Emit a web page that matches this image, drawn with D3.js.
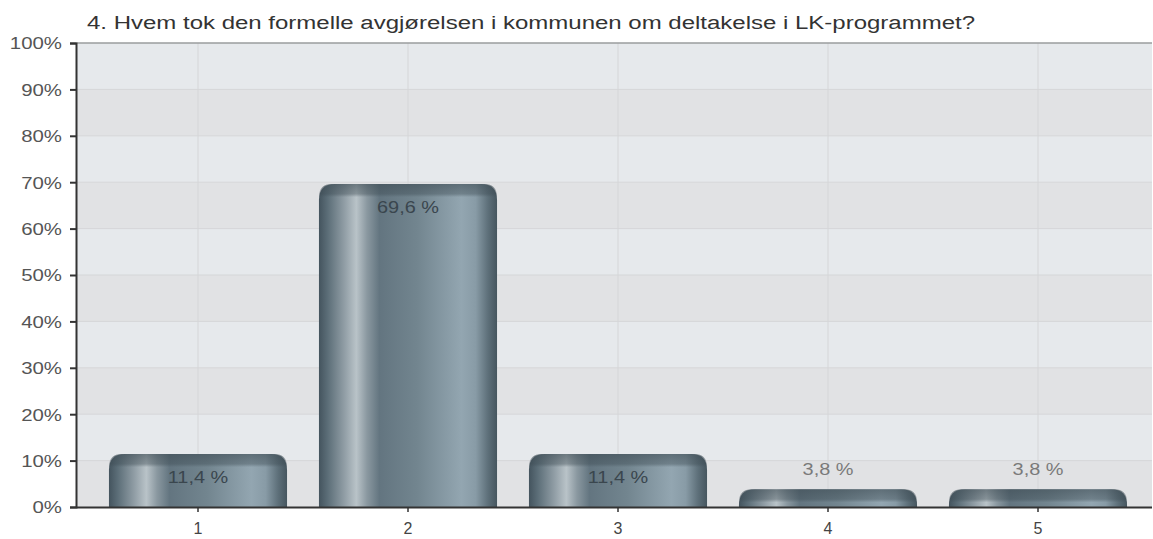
<!DOCTYPE html>
<html>
<head>
<meta charset="utf-8">
<script src="https://cdn.jsdelivr.net/npm/d3@7"></script>
<style>
  body { margin: 0; background: #fff; }
  svg { display: block; font-family: "Liberation Sans", Arial, sans-serif; }
</style>
</head>
<body>
<div id="chart"></div>
<script>
// Dữ liệu
const title = "4. Hvem tok den formelle avgjørelsen i kommunen om deltakelse i LK-programmet?";
const categories = ["1", "2", "3", "4", "5"];
const values = [11.4, 69.6, 11.4, 3.8, 3.8];
const yTicks = [0, 10, 20, 30, 40, 50, 60, 70, 80, 90, 100];

const W = 1153, H = 539;
const plotLeft = 76, plotRight = 1152, plotTop = 43, plotBottom = 507;

const svg = d3.select("#chart").append("svg")
    .attr("width", W)
    .attr("height", H);

const defs = svg.append("defs");

// gradient ngang cho cột
const hg = defs.append("linearGradient").attr("id", "barH")
    .attr("x1", "0%").attr("x2", "100%").attr("y1", "0%").attr("y2", "0%");
[[0, "#44545e"], [0.05, "#5c6e78"], [0.14, "#8f9ca4"], [0.21, "#b9c3c8"], [0.27, "#8a98a0"],
 [0.34, "#637580"], [0.55, "#72858f"], [0.8, "#93a6b1"], [0.88, "#889ba6"], [0.95, "#5d6f79"], [1, "#46565f"]]
    .forEach(s => hg.append("stop").attr("offset", s[0]).attr("stop-color", s[1]));

// gradient dọc cho nắp trên
const vg = defs.append("linearGradient").attr("id", "barTop")
    .attr("x1", "0%").attr("x2", "0%").attr("y1", "0%").attr("y2", "100%");
vg.append("stop").attr("offset", 0).attr("stop-color", "#3c4a52").attr("stop-opacity", 0.6);
vg.append("stop").attr("offset", 0.75).attr("stop-color", "#3c4a52").attr("stop-opacity", 0.4);
vg.append("stop").attr("offset", 1).attr("stop-color", "#3c4a52").attr("stop-opacity", 0);

// Thang đo
const x = d3.scaleBand()
    .domain(categories)
    .range([93, 1143])
    .paddingInner(0.152)
    .paddingOuter(0.076);

const y = d3.scaleLinear()
    .domain([0, 100])
    .range([plotBottom, plotTop]);

// nền sọc
const bands = yTicks.slice(0, -1);
svg.selectAll(".band")
    .data(bands)
    .enter()
    .append("rect")
    .attr("x", plotLeft)
    .attr("y", d => y(d + 10))
    .attr("width", plotRight - plotLeft)
    .attr("height", d => y(d) - y(d + 10))
    .attr("fill", d => (d / 10) % 2 === 1 ? "#e6e9ec" : "#e1e2e4");

// lưới ngang
svg.selectAll(".hgrid")
    .data(yTicks.slice(1, -1))
    .enter()
    .append("line")
    .attr("x1", plotLeft).attr("x2", plotRight)
    .attr("y1", d => y(d)).attr("y2", d => y(d))
    .attr("stroke", "#d5d6d8").attr("stroke-width", 1);

// lưới dọc
svg.selectAll(".vgrid")
    .data(categories)
    .enter()
    .append("line")
    .attr("x1", d => x(d) + x.bandwidth() / 2)
    .attr("x2", d => x(d) + x.bandwidth() / 2)
    .attr("y1", plotTop).attr("y2", plotBottom)
    .attr("stroke", "#d5d6d8").attr("stroke-width", 1);

// viền trên
svg.append("line")
    .attr("x1", plotLeft).attr("x2", plotRight)
    .attr("y1", plotTop).attr("y2", plotTop)
    .attr("stroke", "#9a9c9e").attr("stroke-width", 1.5);

// hàm vẽ cột bo góc trên
function barPath(x0, y0, w, h) {
    const r = Math.min(16, h, w / 2);
    return `M${x0},${y0 + h} L${x0},${y0 + r} Q${x0},${y0} ${x0 + r},${y0} ` +
        `L${x0 + w - r},${y0} Q${x0 + w},${y0} ${x0 + w},${y0 + r} L${x0 + w},${y0 + h} Z`;
}

const bars = svg.selectAll(".bar")
    .data(categories.map((c, i) => ({ c, v: values[i] })))
    .enter()
    .append("g");

bars.append("path")
    .attr("d", d => barPath(x(d.c), y(d.v), x.bandwidth(), plotBottom - y(d.v)))
    .attr("fill", "url(#barH)");

bars.append("path")
    .attr("d", d => {
        const h = Math.min(13, plotBottom - y(d.v));
        return barPath(x(d.c), y(d.v), x.bandwidth(), h);
    })
    .attr("fill", "url(#barTop)");

// nhãn số liệu (giãn ngang như ảnh gốc)
bars.append("text")
    .attr("transform", d => {
        const inside = (plotBottom - y(d.v)) > 30;
        const tx = x(d.c) + x.bandwidth() / 2;
        const ty = inside ? y(d.v) + 29 : y(d.v) - 14;
        return `translate(${tx},${ty}) scale(1.17,1)`;
    })
    .attr("text-anchor", "middle")
    .attr("font-size", 17)
    .attr("fill", d => (plotBottom - y(d.v)) > 30 ? "#3a464e" : "#7a7a7a")
    .text(d => d.v.toFixed(1).replace(".", ",") + " %");

// trục Y
const yAxis = svg.append("g")
    .attr("transform", `translate(${plotLeft},0)`)
    .call(d3.axisLeft(y).tickValues(yTicks).tickSize(6).tickFormat(d => d + "%"));
yAxis.select(".domain").attr("stroke", "#333").attr("stroke-width", 2);
yAxis.selectAll(".tick line").attr("stroke", "#333").attr("stroke-width", 2);
yAxis.selectAll("text")
    .attr("font-size", 17).attr("fill", "#555")
    .attr("font-family", "Liberation Sans, Arial, sans-serif")
    .attr("x", 0).attr("dy", "0.35em")
    .attr("transform", "translate(-14,0) scale(1.2,1)");

// trục X
const xAxis = svg.append("g")
    .attr("transform", `translate(0,${plotBottom})`)
    .call(d3.axisBottom(x).tickSize(5).tickSizeOuter(0));
xAxis.select(".domain").attr("d", `M${plotLeft},0.5H${plotRight}`).attr("stroke", "#333").attr("stroke-width", 2);
xAxis.selectAll(".tick line").attr("stroke", "#333").attr("stroke-width", 1.5);
xAxis.selectAll("text")
    .style("font-size", "16px").attr("fill", "#444")
    .attr("font-family", "Liberation Sans, Arial, sans-serif")
    .attr("y", 27).attr("dy", 0);

// tiêu đề
svg.append("text")
    .attr("x", 87)
    .attr("y", 29)
    .attr("font-size", 18)
    .attr("fill", "#333")
    .attr("textLength", 888)
    .attr("lengthAdjust", "spacingAndGlyphs")
    .text(title);
</script>
</body>
</html>
